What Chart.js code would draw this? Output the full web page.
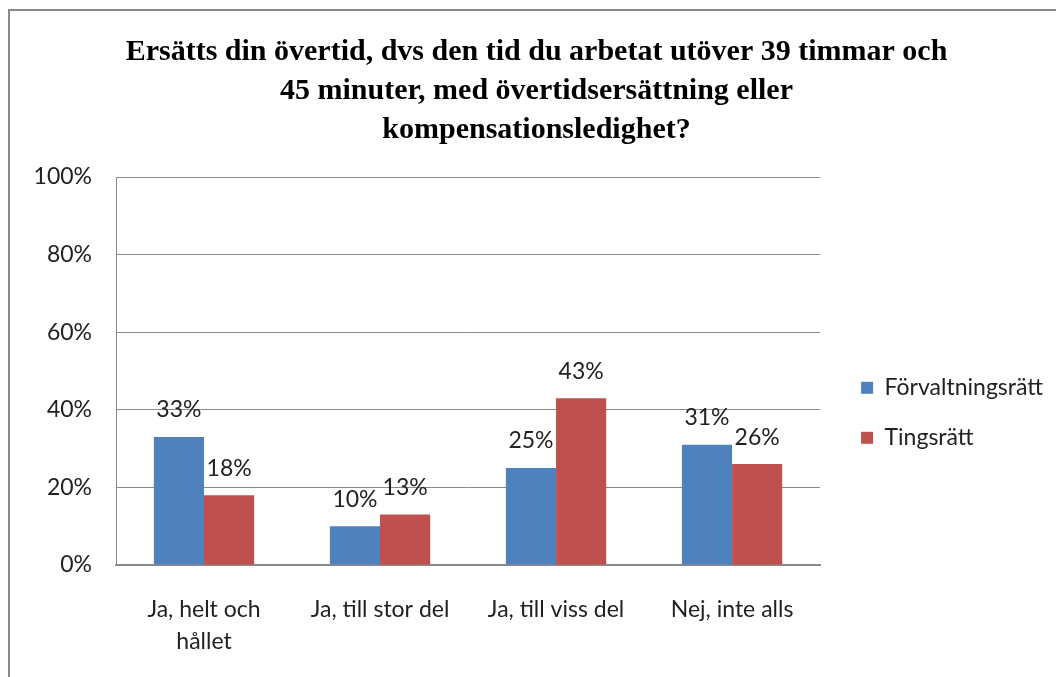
<!DOCTYPE html>
<html>
<head>
<meta charset="utf-8">
<script src="https://cdn.jsdelivr.net/npm/chart.js@4.4.0/dist/chart.umd.min.js"></script>
<style>
  html, body { margin: 0; padding: 0; background: #fff; }
  #wrap { position: relative; width: 1056px; height: 677px; overflow: hidden; }
  #frame { position: absolute; left: 8px; top: 9px; width: 1060px; height: 680px;
           border-left: 2px solid #8a8a8a; border-top: 2px solid #8a8a8a; }
  canvas { position: absolute; left: 0; top: 0; }
</style>
</head>
<body>
<div id="wrap">
  <div id="frame"></div>
  <canvas id="chart" width="1056" height="677"></canvas>
</div>
<script>
const titleLines = [
    'Ersätts din övertid, dvs den tid du arbetat utöver 39 timmar och',
    '45 minuter, med övertidsersättning eller',
    'kompensationsledighet?'
];
const categories = [['Ja, helt och', 'hållet'], 'Ja, till stor del', 'Ja, till viss del', 'Nej, inte alls'];
const forvaltningsratt = [33, 10, 25, 31];
const tingsratt = [18, 13, 43, 26];
const yTicks = [0, 20, 40, 60, 80, 100];

const textFont = 'Lato, "Open Sans", sans-serif';

// draw the percentage above each bar
const valueLabels = {
    id: 'valueLabels',
    afterDatasetsDraw(chart) {
        const ctx = chart.ctx;
        ctx.save();
        ctx.font = '23px ' + textFont;
        ctx.fillStyle = '#222';
        ctx.textAlign = 'center';
        ctx.textBaseline = 'middle';
        chart.data.datasets.forEach((ds, i) => {
            chart.getDatasetMeta(i).data.forEach((bar, j) => {
                ctx.fillText(ds.data[j] + '%', bar.x, bar.y - 27);
            });
        });
        ctx.restore();
    }
};

new Chart(document.getElementById('chart'), {
    type: 'bar',
    data: {
        labels: categories,
        datasets: [
            { label: 'Förvaltningsrätt', data: forvaltningsratt, backgroundColor: '#4f81bd' },
            { label: 'Tingsrätt', data: tingsratt, backgroundColor: '#c0504d' }
        ]
    },
    options: {
        responsive: false,
        animation: false,
        layout: { padding: { left: 20, right: 3, top: 33, bottom: 0 } },
        datasets: {
            bar: { categoryPercentage: 0.57, barPercentage: 1 }
        },
        plugins: {
            title: {
                display: true,
                text: titleLines,
                color: '#000',
                font: { family: '"Liberation Serif", serif', size: 30, weight: 'bold', lineHeight: 1.3 },
                padding: { top: 0, bottom: 27 }
            },
            legend: {
                position: 'right',
                maxWidth: 320,
                title: { display: true, text: ' ', font: { size: 8 }, padding: { top: 106, bottom: 0 } },
                labels: {
                    color: '#222',
                    font: { family: textFont, size: 23 },
                    boxWidth: 12,
                    boxHeight: 12,
                    padding: 27
                }
            },
            tooltip: { enabled: false }
        },
        scales: {
            x: {
                grid: { display: false },
                border: { display: true, color: '#8a8a8a', width: 2 },
                ticks: {
                    color: '#222',
                    font: { family: textFont, size: 23, lineHeight: 1.4 },
                    padding: 20,
                    maxRotation: 0
                },
                afterFit(scale) { scale.height = 112; }
            },
            y: {
                min: 0,
                max: 100,
                afterBuildTicks(scale) { scale.ticks = yTicks.map(v => ({ value: v })); },
                grid: { color: '#8a8a8a', drawTicks: false },
                border: { display: true, color: '#8a8a8a', width: 1 },
                ticks: {
                    color: '#222',
                    font: { family: textFont, size: 23 },
                    padding: 24,
                    callback: v => v + '%'
                },
                afterFit(scale) { scale.width = 96; }
            },
            // empty axis only used as a gap between the plot and the legend
            gap: {
                position: 'right',
                display: true,
                grid: { display: false },
                border: { display: false },
                ticks: { display: false },
                afterFit(scale) { scale.width = 14; }
            }
        }
    },
    plugins: [valueLabels]
});
</script>
</body>
</html>
